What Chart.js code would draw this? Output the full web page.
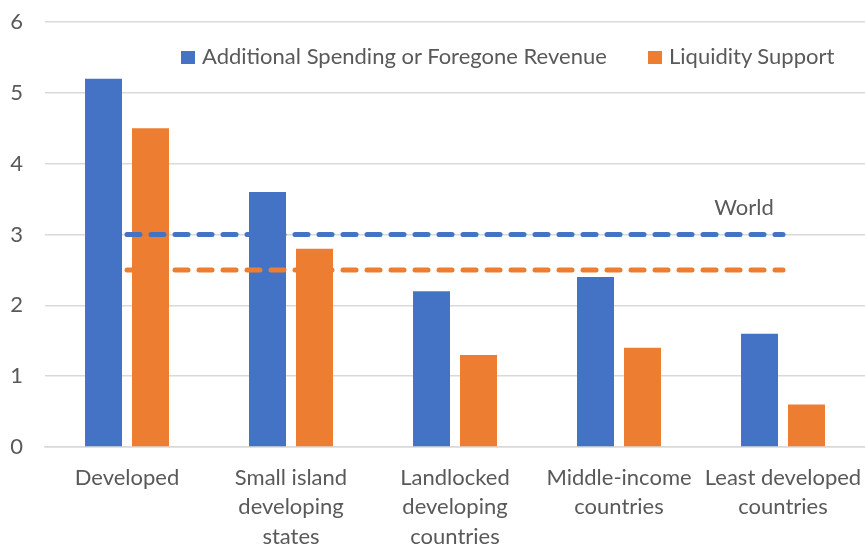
<!DOCTYPE html>
<html>
<head>
<meta charset="utf-8">
<script src="https://cdn.jsdelivr.net/npm/chart.js@4"></script>
<style>
    html, body { margin: 0; padding: 0; background: #fff; }
    #wrap { position: relative; width: 865px; height: 546px; }
    .item { position: absolute; top: 42px; font-family: Lato, sans-serif; font-size: 22px; color: #595959; white-space: nowrap; }
    .item span.caixa { display: inline-block; width: 14px; height: 13px; margin-right: 7px; vertical-align: 0px; }
</style>
</head>
<body>
<div id="wrap">
    <canvas id="grafico" width="865" height="546"></canvas>
    <div id="legenda"></div>
</div>
<script>
const categorias = [
    ['Developed'],
    ['Small island', 'developing', 'states'],
    ['Landlocked', 'developing', 'countries'],
    ['Middle-income', 'countries'],
    ['Least developed', 'countries']
]
const gastoAdicional = [5.2, 3.6, 2.2, 2.4, 1.6]
const suporteLiquidez = [4.5, 2.8, 1.3, 1.4, 0.6]
const mundoGasto = [3, 3, 3, 3, 3]
const mundoLiquidez = [2.5, 2.5, 2.5, 2.5, 2.5]
const nomesSeries = ['Additional Spending or Foregone Revenue', 'Liquidity Support']
const rotuloMundo = 'World'
const ticksY = [0, 1, 2, 3, 4, 5, 6]

const azul = '#4472C4'
const laranja = '#ED7D31'
const cinza = '#595959'

// texto "World" acima da linha tracejada azul
const rotuloPlugin = {
    id: 'rotuloMundo',
    afterDatasetsDraw(chart) {
        const ctx = chart.ctx
        const x = chart.scales.x.getPixelForValue(categorias.length - 1) - 39
        const y = chart.scales.y.getPixelForValue(mundoGasto[0]) - 27
        ctx.save()
        ctx.font = '22px Lato, sans-serif'
        ctx.fillStyle = cinza
        ctx.textAlign = 'center'
        ctx.textBaseline = 'middle'
        ctx.fillText(rotuloMundo, x, y)
        ctx.restore()
    }
}

new Chart(document.getElementById('grafico'), {
    type: 'bar',
    data: {
        labels: categorias,
        datasets: [
            {
                type: 'line',
                data: mundoGasto,
                borderColor: azul,
                borderWidth: 5,
                borderDash: [13, 11],
                borderCapStyle: 'round',
                pointRadius: 0,
                fill: false,
                order: 0
            },
            {
                type: 'line',
                data: mundoLiquidez,
                borderColor: laranja,
                borderWidth: 5,
                borderDash: [13, 11],
                borderCapStyle: 'round',
                pointRadius: 0,
                fill: false,
                order: 0
            },
            {
                label: nomesSeries[0],
                data: gastoAdicional,
                backgroundColor: azul,
                categoryPercentage: 0.573,
                barPercentage: 0.787,
                order: 1
            },
            {
                label: nomesSeries[1],
                data: suporteLiquidez,
                backgroundColor: laranja,
                categoryPercentage: 0.573,
                barPercentage: 0.787,
                order: 1
            }
        ]
    },
    options: {
        responsive: false,
        animation: false,
        layout: { padding: { top: 22, right: 0, left: 0, bottom: 0 } },
        plugins: {
            legend: { display: false },
            tooltip: { enabled: false }
        },
        scales: {
            x: {
                grid: { display: false, drawTicks: false },
                border: { display: true, color: '#d9d9d9', width: 1.5 },
                ticks: {
                    color: cinza,
                    font: { family: 'Lato, sans-serif', size: 22, lineHeight: 1.34 },
                    padding: 16,
                    maxRotation: 0,
                    autoSkip: false
                },
                afterFit: (s) => { s.height = 99; s.paddingLeft = 0; s.paddingRight = 0 }
            },
            y: {
                min: 0,
                max: 6,
                afterBuildTicks: (s) => { s.ticks = ticksY.map(v => ({ value: v })) },
                grid: { color: '#d9d9d9', lineWidth: 1.5, drawTicks: false },
                border: { display: false },
                ticks: {
                    color: cinza,
                    font: { family: 'Lato, sans-serif', size: 22 },
                    padding: 22
                },
                afterFit: (s) => { s.width = 45; s.paddingTop = 0; s.paddingBottom = 0 }
            }
        }
    },
    plugins: [rotuloPlugin]
})

// legenda em HTML dentro da área do gráfico
const posLegenda = [181, 648]
let htmlLegenda = ''
nomesSeries.map((nome, i) => {
    htmlLegenda += `<div class="item" style="left:${posLegenda[i]}px"><span class="caixa" style="background:${i === 0 ? azul : laranja}"></span>${nome}</div>`
})
document.getElementById('legenda').innerHTML = htmlLegenda
</script>
</body>
</html>
